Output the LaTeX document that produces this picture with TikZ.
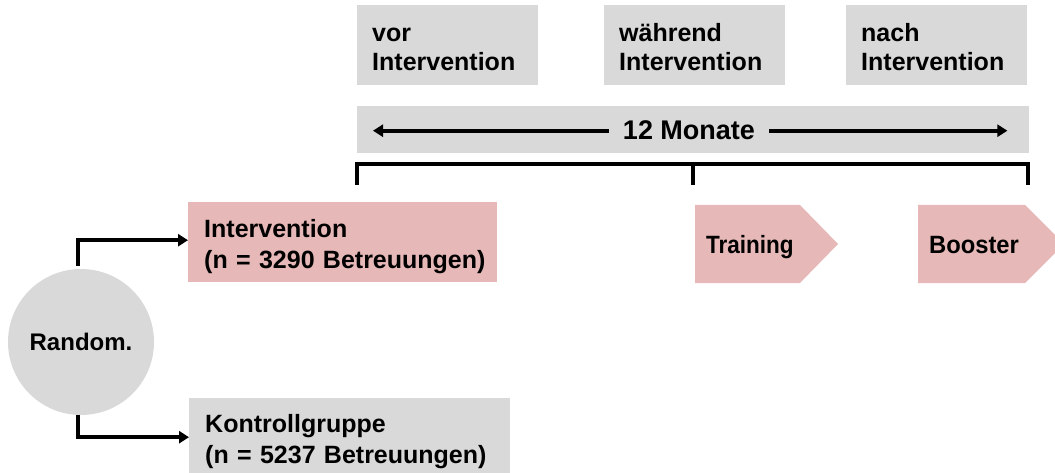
\documentclass[tikz,border=0pt]{standalone}
\usepackage{fontspec}
\setmainfont{Liberation Sans}
\newfontfamily\narrowsans[FakeStretch=0.9]{Liberation Sans}
\newfontfamily\semisans[FakeStretch=0.95]{Liberation Sans}
\usetikzlibrary{arrows.meta,calc}
\definecolor{boxgray}{HTML}{D9D9D9}
\definecolor{boxpink}{HTML}{E6B8B7}
\begin{document}
\begin{tikzpicture}[x=1pt,y=-1pt,
  bigfont/.style={font=\bfseries\fontsize{25}{29}\selectfont},
  groupfont/.style={font=\bfseries\fontsize{25}{31}\selectfont},
  phase/.style={bigfont, fill=boxgray, anchor=north west, minimum width=181pt,
    minimum height=80pt, inner xsep=15pt, inner ysep=0pt, text width=151pt, align=left},
  group/.style={groupfont, anchor=north west, inner xsep=16pt, inner ysep=0pt, align=left},
  conn/.style={line width=4pt, -{Triangle[length=10pt,width=12pt]}},
  bracketline/.style={line width=4pt, line join=miter},
  stage/.style={anchor=base west, inner xsep=11pt}
]
\useasboundingbox (0,0) rectangle (1055,473);

% phase labels
\node[phase] (vor) at (357,5) {\rule{0pt}{22pt}vor\\Intervention};
\node[phase] (waehrend) at (604,5) {\rule{0pt}{22pt}während\\Intervention};
\node[phase] (nach) at (846,5) {\rule{0pt}{22pt}nach\\Intervention};

% 12 Monate bar
\node[fill=boxgray, anchor=north west, minimum width=672pt, minimum height=47pt, inner sep=0pt] (bar) at (357,106) {};
\node[font=\bfseries\fontsize{27}{31}\selectfont, anchor=base, inner xsep=14pt] (mon) at (689,140) {12 Monate};
\coordinate (lend) at ([xshift=16pt]bar.west |- mon.west);
\coordinate (rend) at ([xshift=-22pt]bar.east |- mon.east);
\draw[conn] (mon.west) -- (lend);
\draw[conn] (mon.east) -- (rend);

% bracket
\coordinate (b1) at (357,164);
\coordinate (b2) at (693,164);
\coordinate (b3) at (1028,164);
\draw[bracketline] ($(b1)+(0,21)$) -- (b1) -- (b3) -- ($(b3)+(0,21)$);
\draw[bracketline] (b2) -- ($(b2)+(0,21)$);

% stages
\fill[boxpink] (695,205) -- (800,205) -- (838,244) -- (800,283) -- (695,283) -- cycle;
\node[stage, font=\narrowsans\bfseries\fontsize{25}{29}\selectfont] (train) at (695,254) {Training};
\fill[boxpink] (918,205) -- (1025,205) -- (1064,244) -- (1025,283) -- (918,283) -- cycle;
\node[stage, font=\semisans\bfseries\fontsize{25}{29}\selectfont] (boost) at (918,254) {Booster};

% randomisation
\node[circle, fill=boxgray, minimum size=146pt, inner sep=0pt,
  font=\bfseries\fontsize{24}{28}\selectfont] (rand) at (81,342) {Random.};

\node[group, fill=boxpink, minimum width=309pt, minimum height=80pt, text width=277pt] (int) at (188,202)
  {\rule{0pt}{26.3pt}Intervention\\\mbox{(n = 3290 Betreuungen)}};
\node[group, fill=boxgray, minimum width=321pt, minimum height=78pt, text width=289pt] (kon) at (189,398)
  {\rule{0pt}{26.3pt}Kontrollgruppe\\\mbox{(n = 5237 Betreuungen)}};

\draw[conn] ($(rand.north)+(-3,-3)$) |- ([yshift=2pt]int.west);
\draw[conn] ($(rand.south)+(-3,0)$) |- ([yshift=0pt]kon.west);
\end{tikzpicture}
\end{document}
